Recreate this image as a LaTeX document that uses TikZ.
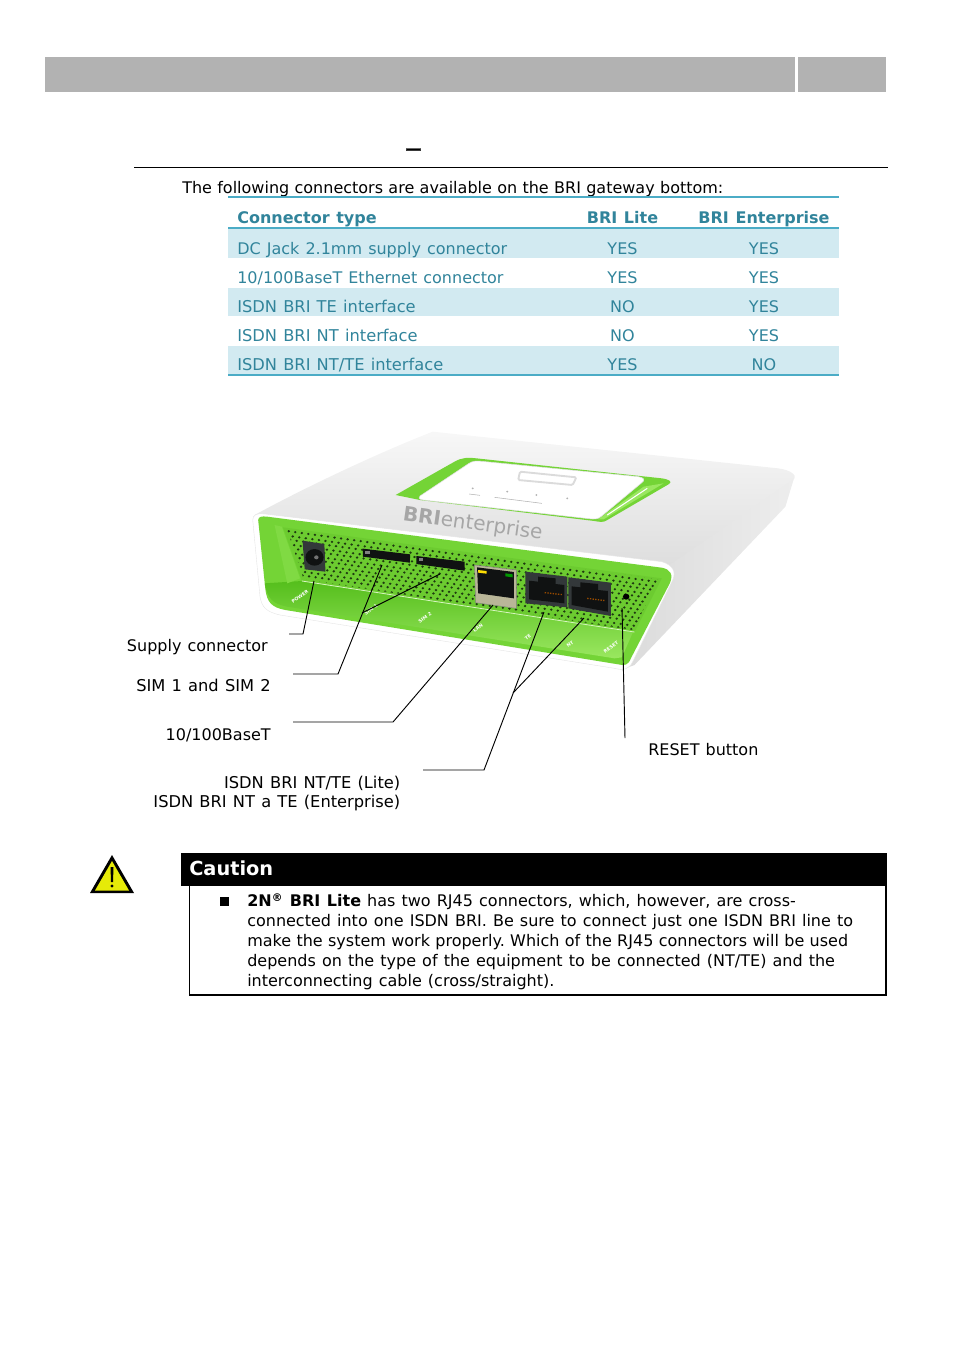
\documentclass[tikz,border=0pt]{standalone}
\usepackage{fontspec}
\setmainfont[WordSpace=1.2]{DejaVu Sans}
\newfontfamily\introfont[WordSpace=1.05]{DejaVu Sans}
\newfontfamily\notefont[WordSpace=1.05]{DejaVu Sans}
\frenchspacing
\definecolor{barGray}{HTML}{B2B2B2}
\definecolor{tableRule}{HTML}{4BACC6}
\definecolor{tableBand}{HTML}{D2EAF1}
\definecolor{tableText}{HTML}{31849B}
\definecolor{caseGreen}{HTML}{74D436}
\definecolor{lipGreen}{HTML}{9AE760}
\definecolor{lipDark}{HTML}{55BE1C}
\definecolor{panelGreen}{HTML}{6CCB30}
\definecolor{dotGreen}{HTML}{1E3A10}
\definecolor{portBody}{HTML}{33383A}
\definecolor{portHole}{HTML}{101212}
\definecolor{portMetal}{HTML}{B9B698}
\tikzset{
  bodytext/.style={font=\fontsize{12}{15}\selectfont, inner sep=0pt, text=black},
  widetext/.style={font=\fontsize{12.2}{15}\selectfont},
  rowname/.style={font=\fontsize{12}{15}\selectfont, inner sep=0pt, anchor=base west, text=tableText},
  rowvalue/.style={font=\fontsize{12}{15}\selectfont, inner sep=0pt, anchor=base, text=tableText},
  headcell/.style={font=\fontsize{12}{15}\selectfont\bfseries, inner sep=0pt, anchor=base, text=tableText},
  tablerule/.style={draw=tableRule, line width=1.5pt},
  leader/.style={draw=black, line width=0.7pt},
  tinyprint/.style={text=white, font=\fontsize{3.5}{4}\selectfont\bfseries, inner sep=0pt, rotate=35},
}
\begin{document}
\begin{tikzpicture}[x=0.75pt, y=-0.75pt]
\useasboundingbox (0, 0) rectangle (954, 1350);

\fill[barGray] (45, 57) rectangle (795, 92);
\fill[barGray] (798, 57) rectangle (886, 92);
\node[font=\fontsize{12}{15}\selectfont\bfseries\addfontfeatures{FakeBold=1.5}, inner sep=0pt, anchor=base] (dash) at (413.5, 154) {---};
\draw[line width=0.75pt] (134, 167.5) -- (888, 167.5);
\node[bodytext, anchor=base west] (intro) at (182, 193) {\introfont The following connectors are available on the BRI gateway bottom:};

\fill[tableBand] (228, 229) rectangle (839, 258);
\fill[tableBand] (228, 288) rectangle (839, 316);
\fill[tableBand] (228, 346) rectangle (839, 375);
\draw[tablerule] (228, 197) -- (839, 197);
\draw[tablerule] (228, 228) -- (839, 228);
\draw[tablerule] (228, 375) -- (839, 375);

\node[headcell, anchor=base west] (head1) at (237, 223) {Connector type};
\node[headcell] (head2) at (622.5, 223) {BRI Lite};
\node[headcell] (head3) at (764, 223) {BRI Enterprise};
\node[rowname] (row1) at (237, 254) {DC Jack 2.1mm supply connector};
\node[rowvalue] (row1a) at (622.5, 254) {YES};
\node[rowvalue] (row1b) at (764, 254) {YES};
\node[rowname] (row2) at (237, 283) {10/100BaseT Ethernet connector};
\node[rowvalue] (row2a) at (622.5, 283) {YES};
\node[rowvalue] (row2b) at (764, 283) {YES};
\node[rowname, widetext] (row3) at (237, 312) {ISDN BRI TE interface};
\node[rowvalue] (row3a) at (622.5, 312) {NO};
\node[rowvalue] (row3b) at (764, 312) {YES};
\node[rowname, widetext] (row4) at (237, 341) {ISDN BRI NT interface};
\node[rowvalue] (row4a) at (622.5, 341) {NO};
\node[rowvalue] (row4b) at (764, 341) {YES};
\node[rowname, widetext] (row5) at (237, 370) {ISDN BRI NT/TE interface};
\node[rowvalue] (row5a) at (622.5, 370) {YES};
\node[rowvalue] (row5b) at (764, 370) {NO};

\begin{scope}[shift={(240, 420)}, x=0.2727pt, y=-0.25pt]
% case
\shade[left color=black!14, right color=black!7] (1170, 430) -- (1525, 170) -- (1500, 260) -- (1085, 735) -- (1060, 745) -- cycle;
\shade[top color=black!3, bottom color=black!13] (40, 285) .. controls (200, 190) and (400, 90) .. (530, 35) -- (1480, 145) .. controls (1515, 150) and (1530, 165) .. (1525, 175) .. controls (1400, 270) and (1280, 360) .. (1180, 435) -- cycle;
\fill[white, draw=black!10, line width=0.3pt] (35, 300) .. controls (35, 285) and (45, 278) .. (70, 282) -- (1160, 425) .. controls (1190, 435) and (1200, 455) .. (1190, 480) -- (1080, 725) .. controls (1070, 748) and (1055, 752) .. (1030, 745) -- (110, 585) .. controls (70, 575) and (60, 560) .. (55, 530) -- cycle;
% recess and lid
\fill[caseGreen] (428, 225) -- (590, 125) .. controls (610, 112) and (630, 112) .. (650, 115) -- (1160, 175) .. controls (1180, 178) and (1190, 185) .. (1180, 192) -- (1010, 300) .. controls (1000, 308) and (990, 306) .. (975, 303) -- (495, 240) -- cycle;
\fill[lipGreen] (1110, 200) -- (1165, 190) -- (1000, 298) -- (985, 298) -- cycle;
\draw[white, line width=0.8pt] (1120, 205) -- (1010, 285);
\fill[white, draw=black!12, line width=0.4pt] (495, 228) -- (630, 130) .. controls (640, 123) and (650, 122) .. (665, 124) -- (1095, 170) .. controls (1112, 173) and (1115, 180) .. (1105, 188) -- (995, 288) .. controls (985, 298) and (975, 298) .. (960, 296) -- (505, 240) .. controls (490, 238) and (490, 232) .. (495, 228) -- cycle;
\draw[black!14, line width=1.4pt, rounded corners=1pt] (770, 155) -- (925, 172) -- (915, 195) -- (765, 180) -- cycle;
\fill[black!30] (640, 205) circle[radius=3] (735, 215) circle[radius=3] (815, 225) circle[radius=3] (900, 235) circle[radius=3];
\draw[black!30, line width=0.4pt] (630, 222) -- (660, 226) (700, 232) -- (830, 250);
\node[text=black!35, font=\fontsize{15}{16}\selectfont, inner sep=0pt, rotate=-8] (brand) at (640, 313) {\textbf{BRI}enterprise};
% front
\fill[caseGreen] (50, 300) .. controls (50, 290) and (60, 288) .. (75, 290) -- (1160, 443) .. controls (1185, 448) and (1192, 465) .. (1182, 490) -- (1075, 715) .. controls (1068, 735) and (1058, 738) .. (1040, 733) -- (125, 570) .. controls (85, 562) and (75, 545) .. (70, 510) -- cycle;
\shade[top color=lipDark, bottom color=lipGreen] (68, 490) -- (170, 483) -- (1081, 636) -- (1050, 712) -- (1030, 715) -- (130, 560) .. controls (90, 552) and (75, 535) .. (68, 490) -- cycle;
\fill[caseGreen!70!lipGreen] (95, 315) -- (115, 320) -- (165, 475) -- (130, 490) -- cycle;
\fill[panelGreen] (118, 322) -- (1160, 475) -- (1085, 636) -- (170, 483) -- cycle;
\draw[white!60!lipGreen, line width=0.6pt] (170, 483) -- (1085, 636);
\begin{scope}
\clip (130, 330) -- (1150, 478) -- (1082, 630) -- (175, 477) -- cycle;
\fill[dotGreen] \foreach \rowid in {0, 1, ..., 23} \foreach \colid in {0, 1, ..., 62} {
  ({105 + \colid*18 + 9*mod(\rowid, 2) + 2*\rowid}, {318 + \colid*2.7 + \rowid*13}) circle[radius=3.7]
};
\end{scope}
% ports
\fill[portBody] (172, 362) -- (232, 372) -- (235, 455) -- (178, 448) -- cycle;
\fill[portHole] (205, 412) circle[radius=25];
\fill[black!55] (210, 412) circle[radius=6];
\fill[portHole] (338, 386) -- (468, 403) -- (467, 428) -- (338, 410) -- cycle;
\fill[black!50!white] (345, 393) rectangle (357, 403);
\fill[portHole] (485, 408) -- (618, 425) -- (618, 452) -- (485, 432) -- cycle;
\fill[black!50!white] (492, 414) rectangle (504, 424);
\fill[portMetal, draw=black!50, line width=0.3pt] (645, 435) -- (760, 450) -- (760, 565) -- (648, 548) -- cycle;
\fill[portHole] (652, 442) -- (753, 456) -- (753, 535) -- (655, 520) -- cycle;
\fill[yellow!80!orange] (655, 450) -- (678, 453) -- (678, 461) -- (655, 458) -- cycle;
\fill[green!60!black] (730, 460) -- (750, 463) -- (750, 472) -- (730, 469) -- cycle;
\fill[portBody] (785, 455) -- (900, 470) -- (900, 562) -- (785, 550) -- cycle;
\fill[portHole] (795, 482) -- (820, 485) -- (820, 470) -- (868, 475) -- (868, 492) -- (892, 495) -- (892, 550) -- (795, 538) -- cycle;
\draw[orange!60!black, line width=1pt, dash pattern=on 1pt off 1pt] (838, 518) -- (888, 524);
\fill[portBody] (903, 472) -- (1020, 488) -- (1020, 588) -- (903, 565) -- cycle;
\fill[portHole] (912, 499) -- (936, 502) -- (936, 487) -- (985, 492) -- (985, 510) -- (1012, 513) -- (1012, 575) -- (912, 555) -- cycle;
\draw[orange!60!black, line width=1pt, dash pattern=on 1pt off 1pt] (955, 535) -- (1005, 542);
\fill[black] (1062, 530) circle[radius=9];
\end{scope}

\node[tinyprint] (printpower) at (300, 597) {POWER};
\node[tinyprint] (printsima) at (371, 610) {SIM 1};
\node[tinyprint] (printsimb) at (425, 618) {SIM 2};
\node[tinyprint] (printlan) at (478, 628) {LAN};
\node[tinyprint] (printte) at (528, 637) {TE};
\node[tinyprint] (printnt) at (570, 644) {NT};
\node[tinyprint] (printreset) at (611, 647) {RESET};

\coordinate (supplyA) at (289, 634);
\coordinate (supplyB) at (303, 634);
\coordinate (supplyC) at (314, 581);
\coordinate (simA) at (293, 674);
\coordinate (simB) at (338, 674);
\coordinate (simC) at (382, 565);
\coordinate (simD) at (362, 613);
\coordinate (simE) at (440, 574);
\coordinate (lanA) at (293, 722);
\coordinate (lanB) at (393, 722);
\coordinate (lanC) at (493, 605);
\coordinate (isdnA) at (423, 770);
\coordinate (isdnB) at (484, 770);
\coordinate (isdnC) at (544, 612);
\coordinate (isdnD) at (513, 693);
\coordinate (isdnE) at (584, 618);
\coordinate (resetA) at (625, 738);
\coordinate (resetB) at (622, 608);
\draw[leader] (supplyA) -- (supplyB) -- (supplyC);
\draw[leader] (simA) -- (simB) -- (simC);
\draw[leader] (simD) -- (simE);
\draw[leader] (lanA) -- (lanB) -- (lanC);
\draw[leader] (isdnA) -- (isdnB) -- (isdnC);
\draw[leader] (isdnD) -- (isdnE);
\draw[leader] (resetA) -- (resetB);

\node[bodytext, anchor=base east] (supply) at (268, 651.5) {Supply connector};
\node[bodytext, widetext, anchor=base east] (sim) at (271, 691.5) {SIM 1 and SIM 2};
\node[bodytext, anchor=base east] (lan) at (271, 740.5) {10/100BaseT};
\node[bodytext, widetext, anchor=base east] (isdn1) at (400.5, 788.5) {ISDN BRI NT/TE (Lite)};
\node[bodytext, widetext, anchor=base east] (isdn2) at (400.5, 807) {ISDN BRI NT a TE (Enterprise)};
\node[bodytext, anchor=base west] (reset) at (648, 755.5) {RESET button};

\fill[black, line join=round] (112, 855) -- (134, 893) -- (90, 893) -- cycle;
\fill[yellow!90!green] (112, 861) -- (129, 890.5) -- (95, 890.5) -- cycle;
\fill[black] (110.5, 867) -- (113.5, 867) -- (113, 882) -- (111, 882) -- cycle;
\fill[black] (112, 886) circle[radius=1.7];

\fill[black] (181, 853) rectangle (887, 886);
\node[font=\fontsize{14.5}{18}\selectfont\bfseries, text=white, inner sep=0pt, anchor=base west] (caution) at (189, 875) {Caution};
\draw[line width=1.1pt] (189.5, 886) -- (189.5, 995) -- (886, 995) -- (886, 886);
\fill[black] (219.5, 896.5) rectangle (229, 905.5);
\node[bodytext, anchor=north west, align=left] (note) at (247, 893) {\textbf{2N\textsuperscript{®} BRI Lite} has two RJ45 connectors, which, however, are cross-\\connected into one ISDN BRI. Be sure to connect just one ISDN BRI line to\\{\notefont make the system work properly. Which of the RJ45 connectors will be used}\\depends on the type of the equipment to be connected (NT/TE) and the\\interconnecting cable (cross/straight).};
\end{tikzpicture}
\end{document}
